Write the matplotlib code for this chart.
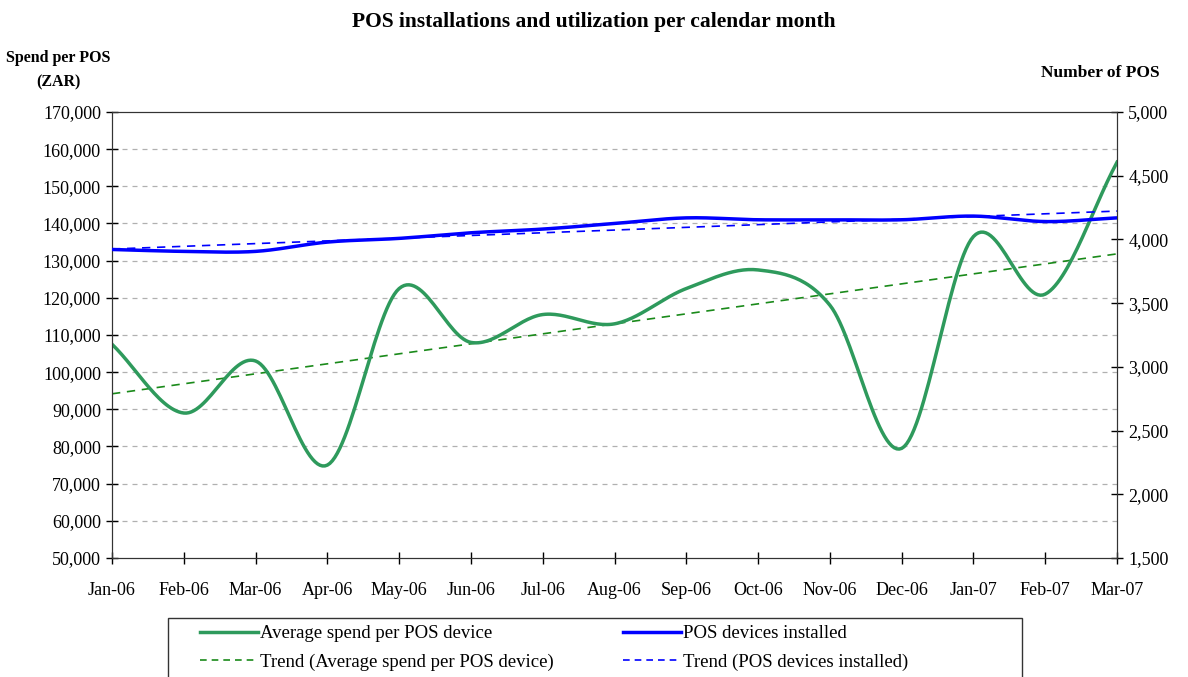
import numpy as np
import matplotlib.pyplot as plt
from matplotlib.lines import Line2D
from matplotlib.patches import Rectangle

plt.rcParams['font.family'] = ['Liberation Serif', 'DejaVu Serif']

months = ['Jan-06', 'Feb-06', 'Mar-06', 'Apr-06', 'May-06', 'Jun-06', 'Jul-06',
          'Aug-06', 'Sep-06', 'Oct-06', 'Nov-06', 'Dec-06', 'Jan-07', 'Feb-07', 'Mar-07']
avg_spend = [107500, 89000, 103000, 75000, 122500, 108000, 115500, 113000,
             122500, 127500, 118000, 79500, 136500, 121000, 156500]
pos_installed = [3921, 3906, 3906, 3979, 4008, 4052, 4081, 4125,
                 4169, 4154, 4154, 4154, 4183, 4140, 4169]

green = '#2e9a5c'
blue = '#0000ff'


def smooth(x, y, n=30):
    # excel style smoothed line (catmull-rom through the points)
    x = np.asarray(x, float)
    y = np.asarray(y, float)
    px = np.concatenate([[2 * x[0] - x[1]], x, [2 * x[-1] - x[-2]]])
    py = np.concatenate([[2 * y[0] - y[1]], y, [2 * y[-1] - y[-2]]])
    xs, ys = [], []
    t = np.linspace(0, 1, n)
    for i in range(1, len(px) - 2):
        for p, out in ((px, xs), (py, ys)):
            p0, p1, p2, p3 = p[i - 1], p[i], p[i + 1], p[i + 2]
            out.extend(0.5 * (2 * p1 + (-p0 + p2) * t
                              + (2 * p0 - 5 * p1 + 4 * p2 - p3) * t ** 2
                              + (-p0 + 3 * p1 - 3 * p2 + p3) * t ** 3))
    return np.array(xs), np.array(ys)


x = np.arange(len(months))

fig = plt.figure(figsize=(11.88, 6.77), dpi=100)
ax = fig.add_axes([0.0943, 0.1758, 0.8460, 0.6588])
ax2 = ax.twinx()

sx, sy = smooth(x, avg_spend)
ax.plot(sx, sy, color=green, lw=2.5, zorder=3)
g = np.polyfit(x, avg_spend, 1)
ax.plot(x, np.polyval(g, x), color='#1a8a1a', lw=1.2, ls=(0, (5, 4)), zorder=2)

bx, by = smooth(x, pos_installed)
ax2.plot(bx, by, color=blue, lw=2.5, zorder=3)
b = np.polyfit(x, pos_installed, 1)
ax2.plot(x, np.polyval(b, x), color=blue, lw=1.2, ls=(0, (5, 4)), zorder=2)

ax.set_xlim(0, 14)
ax.set_ylim(50000, 170000)
ax.set_yticks(range(50000, 170001, 10000))
ax.set_yticklabels([f'{v:,}' for v in range(50000, 170001, 10000)])
ax.set_xticks(x)
ax.set_xticklabels(months)
ax2.set_ylim(1500, 5000)
ax2.set_yticks(range(1500, 5001, 500))
ax2.set_yticklabels([f'{v:,}' for v in range(1500, 5001, 500)])

for v in range(60000, 170000, 10000):
    ax.axhline(v, color='#b0b0b0', lw=0.9, ls=(0, (4, 4)), zorder=1)

for a in (ax, ax2):
    a.tick_params(direction='inout', length=8, width=1, labelsize=13, pad=4)
    for s in a.spines.values():
        s.set_color('#333333')
ax.tick_params(axis='x', pad=13)

fig.text(0.5, 0.968, 'POS installations and utilization per calendar month',
         ha='center', va='center', fontsize=15.5, fontweight='bold')
fig.text(0.049, 0.915, 'Spend per POS', ha='center', va='center',
         fontsize=11.5, fontweight='bold')
fig.text(0.049, 0.879, '(ZAR)', ha='center', va='center',
         fontsize=11.5, fontweight='bold')
fig.text(0.926, 0.892, 'Number of POS', ha='center', va='center',
         fontsize=12.5, fontweight='bold')

# legend frame below the plot
fig.add_artist(Rectangle((168 / 1188, -0.01), 854 / 1188, 59 / 677 + 0.01,
                         transform=fig.transFigure, fill=False,
                         edgecolor='#333333', lw=1.0))
handles = [Line2D([], [], color=green, lw=2.5),
           Line2D([], [], color='#1a8a1a', lw=1.2, ls=(0, (4, 3))),
           Line2D([], [], color=blue, lw=2.5),
           Line2D([], [], color=blue, lw=1.2, ls=(0, (4, 3)))]
labels = ['Average spend per POS device', 'Trend (Average spend per POS device)',
          'POS devices installed', 'Trend (POS devices installed)']
fig.legend(handles, labels, ncol=2, loc='center left',
           bbox_to_anchor=(200 / 1188, 29 / 677),
           fontsize=13.5, frameon=False,
           handlelength=3.1, handletextpad=0.1, borderpad=0.0, borderaxespad=0.0,
           labelspacing=0.6, columnspacing=3.7)

fig.savefig('out.png', dpi=100)
